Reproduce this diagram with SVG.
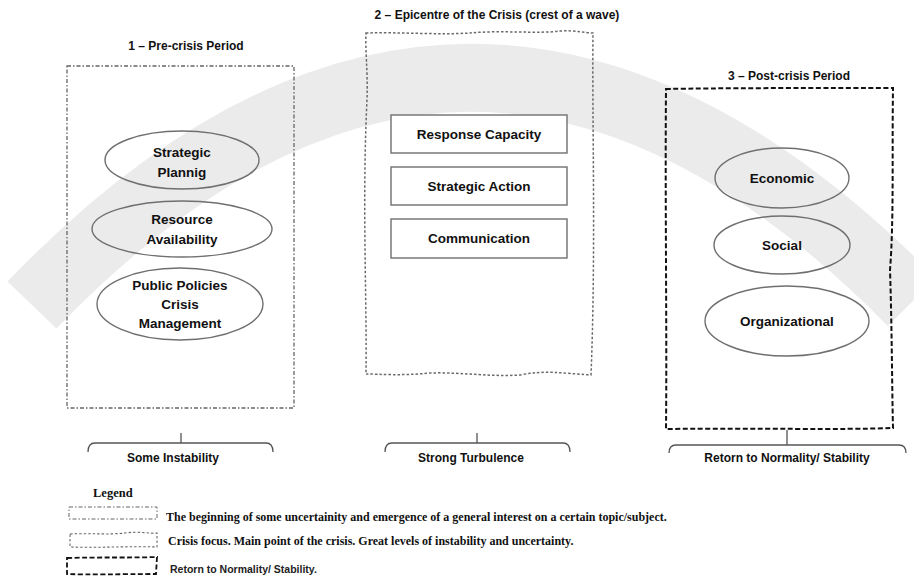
<svg xmlns="http://www.w3.org/2000/svg" width="914" height="576" viewBox="0 0 914 576">
  <style>
    .title { font-family: "Liberation Sans", Arial, sans-serif; font-weight: bold; font-size: 12px; fill: #111; text-anchor: middle; }
    .node { font-family: "Liberation Sans", Arial, sans-serif; font-weight: bold; font-size: 13.5px; fill: #111; text-anchor: middle; }
    .oval { fill: none; stroke: #6f6f6f; stroke-width: 1.4; }
    .item { fill: #fff; stroke: #6f6f6f; stroke-width: 1.4; }
    .phase1 { fill: none; stroke: #666; stroke-width: 1.3; stroke-dasharray: 4 2 1.5 2; }
    .phase2 { fill: none; stroke: #6a6a6a; stroke-width: 1.5; stroke-dasharray: 2.5 2; }
    .phase3 { fill: none; stroke: #111; stroke-width: 2; stroke-dasharray: 5 2.5; }
    .brace { fill: none; stroke: #555; stroke-width: 1.3; }
    .legend { font-family: "Liberation Serif", "Times New Roman", serif; font-weight: bold; font-size: 12px; fill: #111; }
  </style>

  <rect width="914" height="576" fill="#fff"/>

  <!-- wave band behind the three phases -->
  <path d="M32,305 Q468,-148 912,302" fill="none" stroke="#ebebeb" stroke-width="68"/>

  <!-- phase frames -->
  <g id="phase-1">
    <rect class="phase1" x="67" y="66" width="227" height="342"/>
    <text class="title" x="186" y="50">1 – Pre-crisis Period</text>
  </g>
  <g id="phase-2">
    <path class="phase2" d="M366,33 C400,32 440,35 470,33 C500,30 540,34 560,31 C575,30 585,33 593,33 C592,120 596,250 591,375 C560,373 545,370 520,375 C490,377 460,372 430,373 C400,376 380,374 366,374 C367,300 362,200 367,100 C368,70 365,50 366,33 Z"/>
    <text class="title" x="497" y="19">2 – Epicentre of the Crisis (crest of a wave)</text>
  </g>
  <g id="phase-3">
    <path class="phase3" d="M666,89 C720,88 800,88 893,88 C892,150 894,220 890,270 C892,330 892,390 893,428 C840,430 760,428 666,429 C667,330 665,200 666,89 Z"/>
    <text class="title" x="789" y="80">3 – Post-crisis Period</text>
  </g>

  <!-- phase 1 elements -->
  <g id="strategic-planning">
    <ellipse class="oval" cx="182" cy="160" rx="77" ry="29"/>
    <text class="node" x="182" y="157">Strategic</text>
    <text class="node" x="182" y="177">Plannig</text>
  </g>
  <g id="resource-availability">
    <ellipse class="oval" cx="182" cy="229" rx="90" ry="28"/>
    <text class="node" x="182" y="224">Resource</text>
    <text class="node" x="182" y="244">Availability</text>
  </g>
  <g id="public-policies">
    <ellipse class="oval" cx="180" cy="304" rx="83" ry="36"/>
    <text class="node" x="180" y="290">Public Policies</text>
    <text class="node" x="180" y="309">Crisis</text>
    <text class="node" x="180" y="328">Management</text>
  </g>

  <!-- phase 2 elements -->
  <g id="response-capacity">
    <rect class="item" x="391" y="115" width="176" height="38"/>
    <text class="node" x="479" y="139">Response Capacity</text>
  </g>
  <g id="strategic-action">
    <rect class="item" x="391" y="167" width="176" height="38"/>
    <text class="node" x="479" y="191">Strategic Action</text>
  </g>
  <g id="communication">
    <rect class="item" x="391" y="219" width="176" height="39"/>
    <text class="node" x="479" y="243">Communication</text>
  </g>

  <!-- phase 3 elements -->
  <g id="economic">
    <ellipse class="oval" cx="782" cy="178" rx="67" ry="30"/>
    <text class="node" x="782" y="183">Economic</text>
  </g>
  <g id="social">
    <ellipse class="oval" cx="782" cy="245" rx="68" ry="29"/>
    <text class="node" x="782" y="250">Social</text>
  </g>
  <g id="organizational">
    <ellipse class="oval" cx="787" cy="321" rx="82" ry="35"/>
    <text class="node" x="787" y="326">Organizational</text>
  </g>

  <!-- braces under each phase -->
  <g id="connectors">
    <path class="brace" d="M88,452 Q88,443 95,443 L266,443 Q273,443 273,452 M181,433 L181,443"/>
    <path class="brace" d="M385,452 Q385,443 392,443 L563,443 Q570,443 570,452 M477,433 L477,443"/>
    <path class="brace" d="M669,453 Q669,445 676,445 L899,445 Q906,445 906,453 M787,430 L787,445"/>
  </g>
  <g id="outcome-1"><text class="node" x="173" y="462" style="font-size:12px">Some Instability</text></g>
  <g id="outcome-2"><text class="node" x="471" y="462" style="font-size:12px">Strong Turbulence</text></g>
  <g id="outcome-3"><text class="node" x="787" y="462" style="font-size:12px">Retorn to Normality/ Stability</text></g>

  <!-- legend -->
  <g id="legend">
    <text class="legend" x="93" y="497" style="font-size:12.5px">Legend</text>
    <rect class="phase1" x="69" y="507" width="88" height="12" style="stroke-width:1"/>
    <text class="legend" x="166" y="521">The beginning of some uncertainity and emergence of a general interest on a certain topic/subject.</text>
    <path class="phase2" style="stroke-width:1.1" d="M70,534 C90,533 110,535 125,533 C140,531 150,534 157,533 L157,547 C130,546 100,548 70,547 Z"/>
    <text class="legend" x="168" y="545">Crisis focus. Main point of the crisis. Great levels of instability and uncertainty.</text>
    <path class="phase3" style="stroke-width:1.8" d="M67,558 C100,557 130,558 157,557 L156,574 C120,574 90,575 67,574 Z"/>
    <text x="170" y="573" style="font-family:'Liberation Sans', Arial, sans-serif; font-size:10.5px; font-weight:bold; fill:#222">Retorn to Normality/ Stability.</text>
  </g>
</svg>
